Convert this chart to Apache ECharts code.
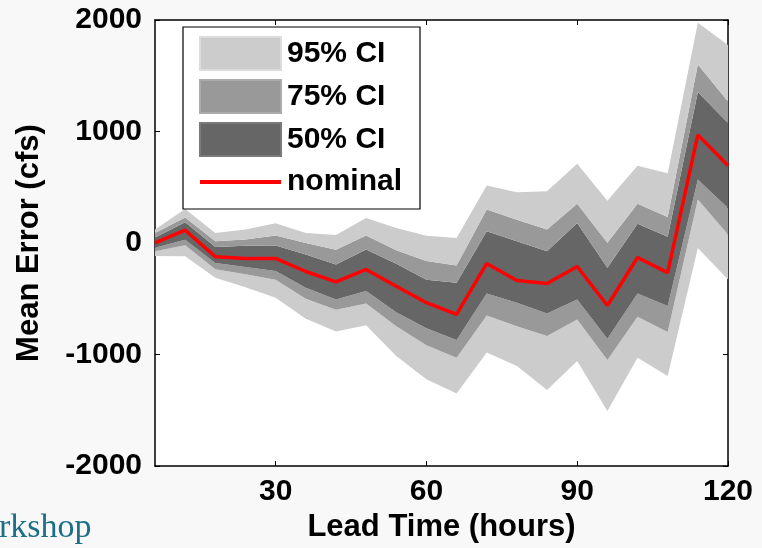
<!DOCTYPE html>
<html>
<head>
<meta charset="utf-8">
<script src="https://cdn.jsdelivr.net/npm/echarts@6/dist/echarts.min.js"></script>
<style>
html,body{margin:0;padding:0;background:#f8f8f8;}
#chart{width:762px;height:548px;}
</style>
</head>
<body>
<div id="chart"></div>
<script>
// ---- data ----
const leadTime = [6, 12, 18, 24, 30, 36, 42, 48, 54, 60, 66, 72, 78, 84, 90, 96, 102, 108, 114, 120];
const nominal   = [2, 115, -122, -138, -138, -255, -348, -237, -387, -535, -640, -183, -335, -362, -210, -560, -130, -265, 970, 695];
const ci95Upper = [121, 306, 91, 121, 177, 91, 72, 225, 136, 65, 46, 515, 455, 464, 710, 380, 694, 626, 1976, 1776];
const ci75Upper = [90, 230, 16, 31, 67, 0, -60, 68, -65, -160, -201, 300, 210, 121, 353, 2, 353, 234, 1600, 1270];
const ci50Upper = [50, 186, -36, -25, -22, -103, -192, -58, -185, -330, -356, 105, 16, -74, 180, -222, 174, 56, 1355, 1076];
const ci50Lower = [-43, 30, -178, -215, -250, -400, -506, -431, -620, -765, -870, -452, -535, -631, -506, -857, -452, -565, 570, 315];
const ci75Lower = [-73, -20, -234, -279, -330, -500, -598, -543, -745, -916, -1028, -649, -745, -834, -685, -1049, -660, -798, 390, 76];
const ci95Lower = [-115, -118, -311, -396, -490, -678, -794, -737, -1013, -1222, -1350, -982, -1102, -1318, -1058, -1505, -1028, -1191, -45, -327];
const xTickValues = [30, 60, 90, 120];
const legendNames = ['95% CI', '75% CI', '50% CI', 'nominal'];

// ---- build ----
const C95 = '#cccccc', C75 = '#999999', C50 = '#666666';
const diff = (a, b) => a.map((v, i) => v - b[i]);
const showTick = (idx, val) => xTickValues.indexOf(Number(val)) >= 0;

function band(name, data, color) {
  return {
    type: 'line', name: name, stack: 'ci', stackStrategy: 'all',
    data: data, symbol: 'none', color: color,
    lineStyle: { width: 0, color: color },
    areaStyle: { color: color, opacity: 1 },
    itemStyle: { color: color },
    emphasis: { disabled: true }, silent: true, z: 2
  };
}

const FONT = '"Liberation Sans", Arial, sans-serif';
const chart = echarts.init(document.getElementById('chart'), null, { renderer: 'canvas' });
const cats = leadTime.map(String);

chart.setOption({
  animation: false,
  backgroundColor: '#f8f8f8',
  grid: { left: 155, right: 34, top: 20, bottom: 81, show: true, backgroundColor: '#ffffff', borderWidth: 0 },
  legend: {
    orient: 'vertical', left: 183, top: 27,
    padding: [9, 18, 10, 15],
    itemWidth: 81, itemHeight: 33, itemGap: 8,
    backgroundColor: '#ffffff', borderColor: '#000', borderWidth: 1.2,
    textStyle: { fontFamily: FONT, fontWeight: 'bold', fontSize: 30, lineHeight: 34, color: '#000', padding: [0, 0, 0, 1] },
    data: [
      { name: legendNames[0], icon: 'rect', itemStyle: { color: C95, borderColor: '#dcdcdc', borderWidth: 2 } },
      { name: legendNames[1], icon: 'rect', itemStyle: { color: C75, borderColor: '#ababab', borderWidth: 2 } },
      { name: legendNames[2], icon: 'rect', itemStyle: { color: C50, borderColor: '#7a7a7a', borderWidth: 2 } },
      { name: legendNames[3], itemStyle: { opacity: 0 }, lineStyle: { width: 4, color: '#ff0000' } }
    ],
    selectedMode: false
  },
  xAxis: [{
    type: 'category', data: cats, boundaryGap: false, position: 'bottom',
    name: 'Lead Time (hours)', nameLocation: 'middle', nameGap: 44,
    nameTextStyle: { fontFamily: FONT, fontWeight: 'bold', fontSize: 31, color: '#000' },
    axisLine: { show: true, onZero: false, lineStyle: { color: '#000', width: 1.5 } },
    axisTick: { show: true, inside: true, length: 5, interval: showTick, lineStyle: { color: '#000' } },
    axisLabel: { interval: showTick, margin: 11, fontFamily: FONT, fontWeight: 'bold', fontSize: 30, color: '#000' },
    splitLine: { show: false }
  }, {
    type: 'category', data: cats, boundaryGap: false, position: 'top',
    axisLine: { show: true, onZero: false, lineStyle: { color: '#000', width: 1.5 } },
    axisTick: { show: true, inside: true, length: 5, interval: showTick, lineStyle: { color: '#000' } },
    axisLabel: { show: false }, splitLine: { show: false }
  }],
  yAxis: [{
    type: 'value', min: -2000, max: 2000, interval: 1000, position: 'left',
    name: 'Mean Error (cfs)', nameLocation: 'middle', nameGap: 110,
    nameTextStyle: { fontFamily: FONT, fontWeight: 'bold', fontSize: 31, color: '#000' },
    axisLine: { show: true, onZero: false, lineStyle: { color: '#000', width: 1.5 } },
    axisTick: { show: true, inside: true, length: 5, lineStyle: { color: '#000' } },
    axisLabel: { margin: 13, formatter: v => String(v), fontFamily: FONT, fontWeight: 'bold', fontSize: 30, color: '#000' },
    splitLine: { show: false }
  }, {
    type: 'value', min: -2000, max: 2000, interval: 1000, position: 'right',
    axisLine: { show: true, onZero: false, lineStyle: { color: '#000', width: 1.5 } },
    axisTick: { show: true, inside: true, length: 5, lineStyle: { color: '#000' } },
    axisLabel: { show: false }, splitLine: { show: false }
  }],
  series: [
    { type: 'line', name: 'base', stack: 'ci', stackStrategy: 'all', data: ci95Lower,
      symbol: 'none', lineStyle: { width: 0, opacity: 0 }, silent: true, z: 1 },
    band(legendNames[0], diff(ci75Lower, ci95Lower), C95),
    band(legendNames[1], diff(ci50Lower, ci75Lower), C75),
    band(legendNames[2], diff(ci50Upper, ci50Lower), C50),
    band(legendNames[1], diff(ci75Upper, ci50Upper), C75),
    band(legendNames[0], diff(ci95Upper, ci75Upper), C95),
    { type: 'line', name: legendNames[3], data: nominal, symbol: 'none', color: '#ff0000',
      lineStyle: { width: 3.5, color: '#ff0000' }, itemStyle: { color: '#ff0000' }, z: 5, silent: true }
  ],
  graphic: [{
    type: 'text', left: -1, top: 511,
    style: { text: 'rkshop', fontFamily: '"Liberation Serif", "DejaVu Serif", serif', fontSize: 34, fill: '#1b6e86' }
  }]
});
</script>
</body>
</html>
